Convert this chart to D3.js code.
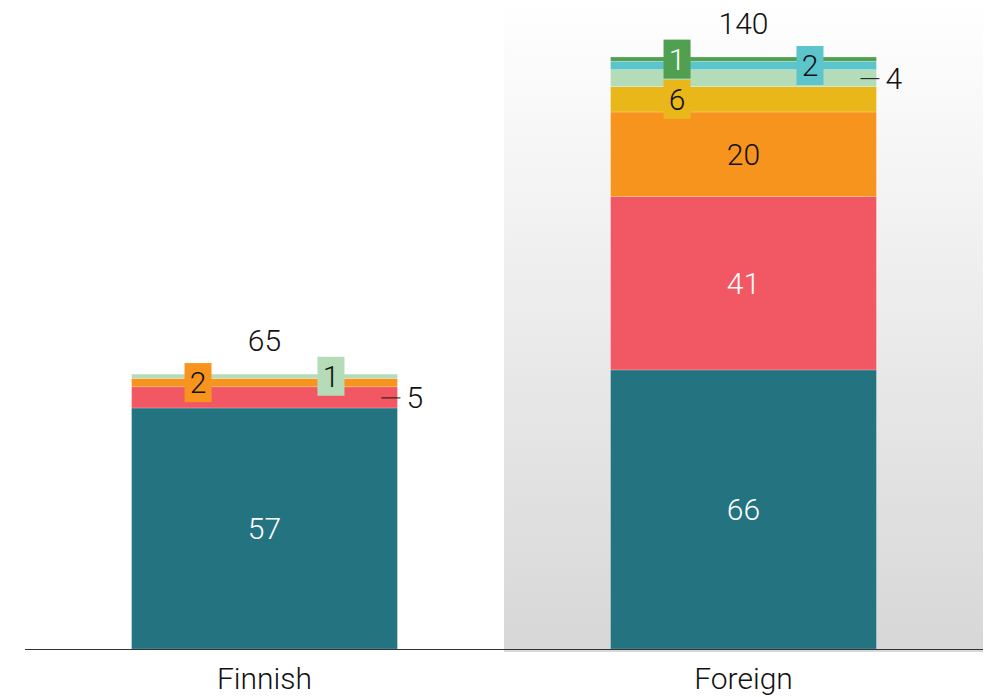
<!DOCTYPE html>
<html lang="en">
<head>
<meta charset="UTF-8">
<title>Finnish vs Foreign</title>
<script src="https://d3js.org/d3.v7.min.js"></script>
<style>
  body { margin: 0; background: #fff; }
  svg text { font-family: Roboto, "Liberation Sans", sans-serif; font-weight: 300; }
</style>
</head>
<body>
<div id="chart"></div>
<script>
    // data
    const categories = ["Finnish", "Foreign"];
    const seriesNames = ["s1", "s2", "s3", "s4", "s5", "s6", "s7"];
    const finnishValues = [57, 5, 2, 0, 1, 0, 0];
    const foreignValues = [66, 41, 20, 6, 4, 2, 1];
    const seriesColors = ["#247380", "#f25764", "#f7941e", "#e9b719", "#b5dcb8", "#5bc5cb", "#51a051"];
    const textColors = ["#fff", "#fff", "#111", "#111", "#111", "#111", "#fff"];
    // how each small segment gets labelled: inside, outside (leader line), boxL / boxR
    const finnishPlace = ["inside", "outside", "boxL", "", "boxR", "", ""];
    const foreignPlace = ["inside", "inside", "inside", "boxL", "outside", "boxR", "boxL"];

    const width = 994, height = 697;
    const margin = {left: 25, right: 11, top: 57, bottom: 48};
    const baseY = height - margin.bottom;

    const rows = categories.map((c, i) => {
        const vals = i === 0 ? finnishValues : foreignValues;
        const row = {cat: c};
        seriesNames.forEach((s, j) => row[s] = vals[j]);
        return row;
    });
    const places = [finnishPlace, foreignPlace];

    const stack = d3.stack().keys(seriesNames)(rows);
    const totals = rows.map(r => d3.sum(seriesNames, s => r[s]));

    const x = d3.scaleBand()
        .domain(categories)
        .range([margin.left, width - margin.right])
        .paddingInner(0.445)
        .paddingOuter(0.2225);

    const y = d3.scaleLinear()
        .domain([0, d3.max(totals)])
        .range([baseY, margin.top]);

    const svg = d3.select("#chart").append("svg")
        .attr("width", width)
        .attr("height", height);

    const defs = svg.append("defs");
    const grad = defs.append("linearGradient")
        .attr("id", "bg").attr("x1", 0).attr("y1", 0).attr("x2", 0).attr("y2", 1);
    grad.append("stop").attr("offset", "0%").attr("stop-color", "#ffffff");
    grad.append("stop").attr("offset", "100%").attr("stop-color", "#d7d7d7");

    // shaded background behind the second category
    const step = x.step();
    const bgX = x("Foreign") - x.paddingInner() * step / 2;
    svg.append("rect")
        .attr("x", bgX)
        .attr("y", 0)
        .attr("width", width - margin.right - bgX)
        .attr("height", baseY + 3)
        .attr("fill", "url(#bg)");

    // bars
    svg.append("g")
      .selectAll("g")
      .data(stack)
      .join("g")
        .attr("fill", (d, i) => seriesColors[i])
      .selectAll("rect")
      .data(d => d.filter(p => p[1] - p[0] > 0))
      .join("rect")
        .attr("x", d => x(d.data.cat))
        .attr("y", d => y(d[1]))
        .attr("width", x.bandwidth())
        .attr("height", d => y(d[0]) - y(d[1]))
        .attr("stroke", "rgba(255,255,255,0.35)")
        .attr("stroke-width", 0.6);

    // baseline
    svg.append("line")
        .attr("x1", margin.left).attr("x2", width - margin.right)
        .attr("y1", baseY + 0.5).attr("y2", baseY + 0.5)
        .attr("stroke", "#333").attr("stroke-width", 1);

    // segment labels
    const lab = svg.append("g").attr("font-size", 30).attr("text-anchor", "middle");
    stack.forEach((layer, j) => {
        layer.forEach((p, i) => {
            const v = p[1] - p[0];
            if (v <= 0) return;
            const cat = categories[i];
            const place = places[i][j];
            const cy = (y(p[0]) + y(p[1])) / 2;
            const bx = x(cat), bw = x.bandwidth();
            if (place === "inside") {
                lab.append("text")
                    .attr("x", bx + bw / 2).attr("y", cy).attr("dy", "0.36em")
                    .attr("fill", textColors[j]).text(v);
            } else if (place === "outside") {
                lab.append("line")
                    .attr("x1", bx + bw - 16).attr("x2", bx + bw + 3)
                    .attr("y1", cy + 0.5).attr("y2", cy + 0.5)
                    .attr("stroke", "#111").attr("stroke-width", 1);
                lab.append("text")
                    .attr("x", bx + bw + 9).attr("y", cy).attr("dy", "0.36em")
                    .attr("text-anchor", "start")
                    .attr("fill", "#111").text(v);
            } else if (place === "boxL" || place === "boxR") {
                const cx = bx + bw * (place === "boxL" ? 0.25 : 0.75);
                lab.append("rect")
                    .attr("x", cx - 13.5).attr("y", cy - 19.5)
                    .attr("width", 27).attr("height", 39)
                    .attr("fill", seriesColors[j]);
                lab.append("text")
                    .attr("x", cx).attr("y", cy).attr("dy", "0.36em")
                    .attr("fill", textColors[j]).text(v);
            }
        });
    });

    // totals
    svg.append("g")
      .selectAll("text")
      .data(rows)
      .join("text")
        .attr("x", d => x(d.cat) + x.bandwidth() / 2)
        .attr("y", (d, i) => y(totals[i]) - 34)
        .attr("dy", "0.36em")
        .attr("text-anchor", "middle")
        .attr("font-size", 30)
        .attr("fill", "#111")
        .text((d, i) => totals[i]);

    // category axis labels
    svg.append("g")
        .attr("transform", `translate(0,${baseY})`)
        .call(d3.axisBottom(x).tickSize(0).tickPadding(19))
        .call(g => g.select(".domain").remove())
        .call(g => g.selectAll("text")
            .attr("font-size", 30)
            .attr("font-family", "Roboto, sans-serif")
            .attr("font-weight", 300)
            .attr("fill", "#111"));
</script>
</body>
</html>
